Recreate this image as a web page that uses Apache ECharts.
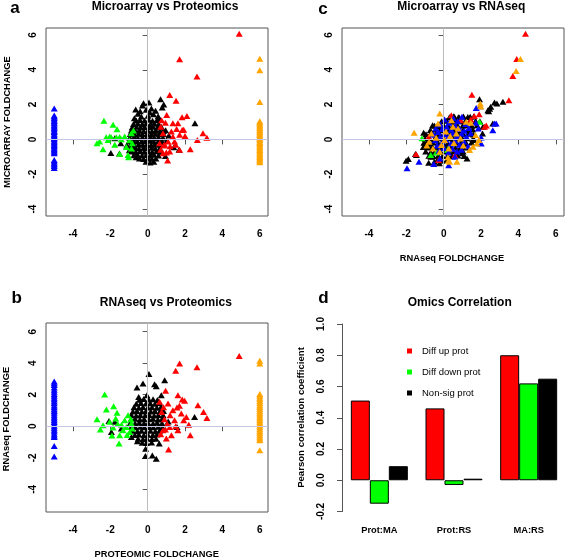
<!DOCTYPE html>
<html><head><meta charset="utf-8">
<script src="https://cdn.jsdelivr.net/npm/echarts@6/dist/echarts.min.js"></script>
<style>html,body{margin:0;padding:0;background:#fff}#c{width:567px;height:559px}</style>
</head><body><div id="c"></div>
<script>
// ---------- data ----------
const scatterTicks = [-4, -2, 0, 2, 4, 6];
const corrCategories = ['Prot:MA', 'Prot:RS', 'MA:RS'];
const corrUp = [0.51, 0.46, 0.80];
const corrDown = [-0.15, -0.03, 0.62];
const corrNonSig = [0.09, 0.01, 0.65];

// panel a: proteomic (x) vs microarray (y)
const aBlack = [[-0.64,1.72],[-0.28,1.95],[0.07,2.12],[-0.22,2.08],[0.20,1.78],[0.42,1.64],[0.69,2.30],[0.86,2.00],[0.78,1.83],[-0.52,1.47],[-0.40,1.62],[-0.08,1.70],[0.12,1.55],[0.31,1.44],[0.56,1.33],[-0.71,1.22],[-0.34,1.31],[0.02,1.36],[0.63,1.16],
[2.53,0.93],[1.68,-0.60],[-1.97,-0.78],[-1.51,-0.81],[-1.76,0.07],[-1.44,-0.22],[1.13,0.22],[1.40,-0.45],[0.96,0.52],[-1.12,-0.35],[-0.98,-0.62],[-0.62,-1.02],[0.95,-0.95],
[-0.61,1.08],[-0.41,1.12],[-0.17,1.09],[0.06,1.13],[0.26,1.07],[0.49,1.10],
[-0.76,0.88],[-0.53,0.92],[-0.29,0.89],[-0.07,0.91],[0.16,0.87],[0.36,0.92],[0.59,0.89],
[-0.83,0.69],[-0.59,0.72],[-0.37,0.68],[-0.16,0.71],[0.08,0.70],[0.29,0.73],[0.53,0.68],[0.74,0.71],
[-0.87,0.51],[-0.65,0.48],[-0.45,0.52],[-0.21,0.49],[0.01,0.51],[0.23,0.47],[0.43,0.52],[0.67,0.50],[0.84,0.48],
[-0.93,0.31],[-0.69,0.28],[-0.47,0.32],[-0.27,0.29],[-0.03,0.31],[0.19,0.28],[0.41,0.32],[0.61,0.29],[0.85,0.31],
[-0.96,0.09],[-0.72,0.12],[-0.52,0.08],[-0.28,0.11],[-0.06,0.09],[0.16,0.12],[0.36,0.08],[0.58,0.11],[0.82,0.09],
[-0.99,-0.11],[-0.75,-0.08],[-0.55,-0.12],[-0.31,-0.09],[-0.11,-0.11],[0.13,-0.08],[0.33,-0.12],[0.57,-0.09],[0.77,-0.11],[1.01,-0.08],
[-0.92,-0.29],[-0.72,-0.32],[-0.48,-0.28],[-0.26,-0.31],[-0.04,-0.29],[0.18,-0.32],[0.38,-0.28],[0.62,-0.31],[0.82,-0.29],
[-0.89,-0.51],[-0.67,-0.48],[-0.47,-0.52],[-0.23,-0.49],[-0.03,-0.51],[0.21,-0.48],[0.41,-0.52],[0.65,-0.49],
[-0.84,-0.69],[-0.64,-0.72],[-0.40,-0.68],[-0.18,-0.71],[0.04,-0.69],[0.24,-0.72],[0.48,-0.68],[0.68,-0.71],
[-0.74,-0.91],[-0.54,-0.88],[-0.30,-0.92],[-0.08,-0.89],[0.14,-0.91],[0.34,-0.88],[0.58,-0.92],
[-0.44,-1.09],[-0.22,-1.12],[0.02,-1.08],[0.22,-1.11],[0.44,-1.09],
[-0.09,-1.28],[0.13,-1.32],[0.33,-1.29]];
const aRed = [[4.90,6.07],[1.71,4.60],[2.64,3.62],[1.18,2.55],[1.52,2.22],[1.02,1.40],[1.84,1.27],[2.10,1.35],[1.35,0.93],[1.62,0.93],[1.93,0.55],[2.96,0.35],[3.17,0.10],[2.66,-0.03],[2.28,-0.56],[1.71,-0.60],[1.07,-1.21],[1.00,-0.75],[0.64,-0.22],[0.82,0.35],[1.27,0.45],[1.09,-0.12],[1.44,-0.12],[0.70,0.72],[0.85,-0.35],[0.91,-0.31],[1.18,-0.69],[0.83,-0.79],[1.35,0.15],[1.71,0.27],[1.85,0.54],[0.95,0.95],[0.75,1.10],[1.55,0.60],[1.20,-0.40],[0.70,-0.60],[2.00,0.20],[1.50,-0.30]];
const aGreen = [[-2.34,1.07],[-1.85,0.84],[-1.64,0.59],[-2.71,-0.22],[-2.57,-0.12],[-2.22,0.12],[-1.95,0.12],[-1.76,-0.31],[-1.50,-0.83],[-1.05,-0.89],[-1.02,-1.02],[-1.23,0.16],[-1.41,0.01],[-1.50,0.14],[-0.97,-0.05],[-0.87,0.35],[-0.76,0.51],[-2.39,-0.56],[-1.68,0.12],[-2.03,0.16],[-1.14,-0.43],[-0.87,-0.52],[-0.82,-0.22],[-2.12,-0.03]];
const aBlueY = [1.78,1.37,1.31,1.23,1.14,1.06,0.97,0.91,0.82,0.74,0.67,0.58,0.49,0.42,0.33,0.24,0.17,0.08,0.01,-0.07,-0.16,-0.23,-0.32,-0.39,-0.48,-0.56,-0.64,-0.71,-0.79,-1.18,-1.27,-1.37,-1.44,-1.53,-1.64];
const aOrangeY = [4.64,3.97,2.15,1.05,0.97,0.91,0.82,0.74,0.65,0.57,0.51,0.42,0.34,0.26,0.17,0.11,0.02,-0.05,-0.13,-0.21,-0.28,-0.36,-0.45,-0.52,-0.61,-0.68,-0.76,-0.85,-0.92,-1.01,-1.08,-1.16,-1.23,-1.31];

// panel b: proteomic (x) vs RNAseq (y)
const bBlack = [[0.07,3.31],[-0.57,2.46],[-0.25,2.71],[0.37,2.67],[0.46,2.54],[0.91,2.92],[0.73,1.97],[-0.04,1.97],[-0.48,1.86],[2.51,0.59],[1.57,-0.04],[-0.11,-1.42],[-0.12,-1.89],[0.25,-1.86],[0.46,-2.06],[-0.87,-0.68],[-2.07,0.34],[-1.76,0.28],[-1.94,-0.36],[-1.41,-0.15],[0.62,-1.10],[-0.55,-0.95],[1.10,0.30],
[-0.44,1.68],[-0.21,1.73],[0.06,1.69],[0.29,1.72],[0.52,1.67],
[-0.61,1.43],[-0.36,1.47],[-0.09,1.44],[0.14,1.46],[0.39,1.42],[0.63,1.47],
[-0.73,1.21],[-0.47,1.18],[-0.25,1.22],[0.01,1.19],[0.23,1.21],[0.49,1.18],[0.71,1.22],
[-0.79,0.94],[-0.57,0.97],[-0.31,0.93],[-0.09,0.96],[0.17,0.94],[0.39,0.97],[0.65,0.93],[0.85,0.96],
[-0.87,0.71],[-0.61,0.68],[-0.39,0.72],[-0.13,0.69],[0.09,0.71],[0.35,0.68],[0.57,0.72],[0.83,0.69],
[-0.89,0.44],[-0.67,0.47],[-0.41,0.43],[-0.19,0.46],[0.07,0.44],[0.29,0.47],[0.55,0.43],[0.77,0.46],
[-0.93,0.21],[-0.67,0.18],[-0.45,0.22],[-0.19,0.19],[0.03,0.21],[0.29,0.18],[0.51,0.22],[0.77,0.19],
[-0.87,-0.04],[-0.65,-0.07],[-0.39,-0.03],[-0.17,-0.06],[0.09,-0.04],[0.31,-0.07],[0.57,-0.03],[0.79,-0.06],
[-0.81,-0.29],[-0.55,-0.32],[-0.33,-0.28],[-0.07,-0.31],[0.15,-0.29],[0.41,-0.32],[0.63,-0.28],
[-0.69,-0.56],[-0.47,-0.53],[-0.21,-0.57],[0.01,-0.54],[0.27,-0.56],[0.49,-0.53],
[-0.51,-0.79],[-0.25,-0.82],[-0.03,-0.78],[0.23,-0.81],[0.45,-0.79],
[-0.29,-1.04],[-0.06,-1.07],[0.21,-1.03]];
const bRed = [[4.90,4.45],[1.71,3.98],[2.64,3.74],[1.50,3.52],[0.96,2.25],[1.62,1.97],[1.85,1.69],[1.98,1.61],[2.69,1.33],[2.99,0.91],[3.17,0.53],[2.28,-0.57],[1.12,-1.48],[1.00,-0.78],[0.82,-0.25],[1.18,-0.04],[1.44,0.38],[1.93,0.38],[1.80,0.81],[1.35,1.02],[1.09,1.44],[1.57,1.19],[2.07,0.59],[0.64,1.55],[1.62,-0.25],[1.27,-0.57],[0.75,0.90],[0.90,0.45],[1.20,0.70],[0.70,-0.50],[1.50,0.00],[2.20,0.10],[1.70,1.30],[0.85,1.20],[1.05,0.15],[0.95,-0.20]];
const bGreen = [[-2.30,2.01],[-1.82,1.27],[-2.21,1.06],[-1.64,0.85],[-2.71,0.44],[-2.39,0.06],[-2.53,-0.21],[-2.03,0.28],[-1.71,0.49],[-1.85,-0.08],[-1.91,-0.59],[-1.50,-0.57],[-1.53,-1.10],[-1.14,-0.04],[-1.23,0.38],[-1.05,0.70],[-0.96,-0.36],[-1.32,-0.25],[-0.87,0.17],[-1.40,0.10],[-0.90,0.45],[-1.10,-0.55],[-0.82,-0.15],[-1.60,0.15]];
const bBlueY = [2.84,2.73,2.61,2.46,2.31,2.19,2.04,1.93,1.81,1.69,1.57,1.46,1.32,1.21,1.08,0.96,0.86,0.73,0.61,0.49,0.38,0.27,0.14,0.03,-0.09,-0.22,-0.34,-0.47,-0.59,-0.68,-1.25,-1.92];
const bOrangeY = [4.15,3.98,2.05,1.94,1.81,1.71,1.58,1.47,1.34,1.22,1.11,0.98,0.86,0.75,0.62,0.51,0.39,0.28,0.17,0.04,-0.07,-0.19,-0.31,-0.42,-0.54,-0.66,-0.77,-0.89,-1.53];

// panel c: RNAseq (x) vs microarray (y)
const cBlack = [[1.92,2.31],[1.96,1.91],[2.72,2.12],[2.85,2.06],[3.17,2.16],[2.37,1.68],[2.46,1.76],[2.52,1.88],[2.41,1.62],[2.63,0.92],[2.10,0.73],
[-1.07,0.38],[-1.51,-0.84],[-2.01,-1.22],[-1.89,-1.13],[-1.46,-0.90],[-0.80,-1.34],[1.25,-1.09],[-0.59,0.82],[-0.32,0.76],[-0.94,-0.23],[-0.77,-0.42],[-0.68,-1.00],[-0.50,-1.28],[-0.23,-1.37],[1.01,-0.80],[2.08,0.34],[1.64,-0.04],[1.42,1.30],[0.84,1.26],[0.57,1.30],
[0.31,1.28],[0.54,1.33],[0.79,1.27],[1.06,1.31],[1.29,1.29],[1.61,1.32],
[-0.11,1.04],[0.16,1.07],[0.39,1.03],[0.66,1.06],[0.89,1.04],[1.16,1.07],[1.39,1.03],[1.71,1.06],[1.94,1.04],
[-0.49,0.79],[-0.26,0.82],[0.01,0.78],[0.24,0.81],[0.51,0.79],[0.74,0.82],[1.01,0.78],[1.24,0.81],[1.51,0.79],[1.79,0.82],
[-0.71,0.54],[-0.44,0.57],[-0.21,0.53],[0.06,0.56],[0.29,0.54],[0.56,0.57],[0.79,0.53],[1.06,0.56],[1.29,0.54],[1.56,0.57],
[-0.94,0.29],[-0.71,0.32],[-0.44,0.28],[-0.21,0.31],[0.06,0.29],[0.29,0.32],[0.56,0.28],[0.79,0.31],[1.06,0.29],[1.29,0.32],[1.59,0.28],
[-0.99,0.04],[-0.76,0.07],[-0.49,0.03],[-0.26,0.06],[0.01,0.04],[0.24,0.07],[0.51,0.03],[0.74,0.06],[1.01,0.04],[1.24,0.07],[1.56,0.03],
[-1.06,-0.19],[-0.79,-0.22],[-0.56,-0.18],[-0.29,-0.21],[-0.06,-0.19],[0.21,-0.22],[0.44,-0.18],[0.71,-0.21],[0.94,-0.19],[1.21,-0.22],[1.49,-0.18],
[-1.09,-0.44],[-0.86,-0.47],[-0.59,-0.43],[-0.36,-0.46],[-0.09,-0.44],[0.14,-0.47],[0.41,-0.43],[0.64,-0.46],[0.91,-0.44],[1.19,-0.47],
[-0.96,-0.69],[-0.69,-0.72],[-0.46,-0.68],[-0.19,-0.71],[0.04,-0.69],[0.31,-0.72],[0.54,-0.68],[0.81,-0.71],[1.04,-0.69],
[-0.79,-0.94],[-0.56,-0.97],[-0.29,-0.93],[-0.06,-0.96],[0.21,-0.94],[0.44,-0.97],[0.76,-0.93],[1.09,-0.96],
[-0.34,-1.19],[-0.11,-1.22],[0.16,-1.18]];
const cRed = [[4.38,6.07],[3.91,4.62],[3.70,3.64],[1.51,2.56],[3.49,2.25],[0.41,1.39],[0.91,1.10],[2.19,0.73],[2.28,0.80],[-0.80,0.15],[-1.48,-0.84],[1.64,1.34],[-0.27,-1.18],[1.45,1.15],[0.60,-0.90],[1.90,1.45]];
const cGreen = [[-1.16,0.06],[1.92,1.01],[-0.69,-0.90],[-0.40,-0.75],[0.20,-0.60]];
const cBlue = [[-1.96,-1.66],[-1.32,-1.28],[-0.53,-1.41],[0.27,-1.49],[2.72,0.92],[2.81,0.92],[2.63,0.53],[2.01,0.11],[2.01,-0.23],[1.74,1.81],[1.72,0.95],[1.85,0.62],[-0.20,-1.10],[0.60,-1.00],
[-0.42,0.62],[-0.18,0.85],[0.05,1.15],[0.28,0.95],[0.52,1.22],[0.75,1.05],[0.98,1.30],[1.18,0.88],
[-0.55,0.28],[-0.30,0.42],[-0.08,0.60],[0.16,0.72],[0.40,0.55],[0.62,0.78],[0.86,0.60],[1.10,0.50],[1.35,0.65],
[-0.45,-0.05],[-0.20,0.12],[0.03,0.30],[0.27,0.18],[0.50,0.36],[0.73,0.20],[0.96,0.33],[1.22,0.15],[1.45,0.35],
[-0.35,-0.35],[-0.10,-0.20],[0.14,-0.05],[0.38,-0.25],[0.60,-0.08],[0.84,-0.30],[1.08,-0.12],[1.30,-0.40],
[-0.25,-0.65],[0.02,-0.50],[0.25,-0.75],[0.48,-0.55],[0.72,-0.70],[0.95,-0.60]];
const cOrange = [[4.11,4.62],[3.88,3.93],[1.96,2.06],[1.98,1.91],[-1.58,0.38],[-0.30,0.92],[-0.66,0.34],[-0.78,-0.13],[-0.57,-0.52],[-0.21,-0.71],[0.32,-1.28],[0.71,-1.28],[0.23,-1.03],[0.50,0.73],[0.77,0.63],[0.68,0.34],[0.05,-0.04],[-0.12,-0.32],[0.28,-0.52],[1.39,-0.61],[1.57,-0.42],[1.78,-0.23],[1.89,-0.04],[1.71,0.25],[1.21,1.01],[-0.21,1.49],[0.25,-1.22],[0.35,0.20],[0.12,0.45],[0.90,0.05],[1.05,-0.35],[-0.40,0.10],[0.55,-0.20],[-0.90,-0.35],[1.45,0.95],[0.42,1.10]];

// ---------- chart ----------
const FONT = "'Liberation Sans', Arial, sans-serif";
const C = {red:'#ff0000', green:'#00ff00', black:'#000000', blue:'#0000ff', orange:'#ffa500'};
const chart = echarts.init(document.getElementById('c'), null, {renderer:'canvas'});

function scatterX(i){
  return {type:'value', gridIndex:i, min:-5.44, max:6.44, axisLine:{show:false},
    splitLine:{show:false},
    axisTick:{show:true, length:5, customValues:scatterTicks, lineStyle:{color:'#555'}},
    axisLabel:{customValues:scatterTicks, fontSize:10, fontWeight:'bold', fontFamily:FONT, color:'#000', margin:13}};
}
function scatterY(i, mn, mx){
  return {type:'value', gridIndex:i, min:mn, max:mx, axisLine:{show:false},
    splitLine:{show:false},
    axisTick:{show:true, length:5, customValues:scatterTicks, lineStyle:{color:'#555'}},
    axisLabel:{customValues:scatterTicks, rotate:90, fontSize:10, fontWeight:'bold', fontFamily:FONT, color:'#000', margin:8}};
}
function sc(name, i, data, color, z){
  return {name:name, type:'scatter', xAxisIndex:i, yAxisIndex:i, data:data, symbol:'triangle',
    symbolSize:[7,6], itemStyle:{color:color, opacity:1}, z:z, silent:true};
}
function refLines(i){
  return {name:'ref'+i, type:'scatter', xAxisIndex:i, yAxisIndex:i, data:[], z:9, silent:true,
    markLine:{silent:true, symbol:'none', animation:false, label:{show:false},
      lineStyle:{width:1, type:'solid'},
      data:[{xAxis:0, lineStyle:{color:'#bdbdbd', type:'solid', width:1}},
            {yAxis:0, lineStyle:{color:'#c4c4e4', type:'solid', width:1}}]}};
}
const col = (ys, x) => ys.map(y => [x, y]);

const gridBox = {show:true, borderColor:'#555', borderWidth:1, backgroundColor:'transparent'};

function txt(t, x, y, size, weight, rot){
  return {type:'text', x:x, y:y, rotation:rot||0, silent:true,
    style:{text:t, fill:'#000', font:(weight||'bold')+' '+size+'px '+FONT, textAlign:'center', textVerticalAlign:'middle'}};
}

const option = {
  animation:false,
  backgroundColor:'#fff',
  grid:[
    Object.assign({left:46, top:28, width:222, height:188}, gridBox),
    Object.assign({left:342, top:28, width:222, height:188}, gridBox),
    Object.assign({left:46, top:323, width:222, height:189}, gridBox),
    {left:342, top:324, width:224, height:187.5, show:false}
  ],
  xAxis:[
    scatterX(0), scatterX(1), scatterX(2),
    {type:'category', gridIndex:3, data:corrCategories, axisLine:{show:false}, axisTick:{show:false},
     axisLabel:{fontSize:9.3, fontWeight:'bold', fontFamily:FONT, color:'#000', margin:14}}
  ],
  yAxis:[
    scatterY(0, -4.4, 6.4), scatterY(1, -4.4, 6.4), scatterY(2, -5.44, 6.55),
    {type:'value', gridIndex:3, min:-0.2, max:1.0, interval:0.2, splitLine:{show:false},
     axisLine:{show:true, lineStyle:{color:'#555', width:1}},
     axisTick:{show:true, length:5, lineStyle:{color:'#555'}},
     axisLabel:{rotate:90, fontSize:10, fontWeight:'bold', fontFamily:FONT, color:'#000', margin:16,
       formatter:v => v.toFixed(1)}}
  ],
  legend:{data:['Diff up prot','Diff down prot','Non-sig prot'], orient:'vertical', left:402, top:340,
    itemWidth:5, itemHeight:5, itemGap:9, icon:'rect', selectedMode:false,
    itemStyle:{borderWidth:0},
    textStyle:{fontSize:9.5, fontFamily:FONT, color:'#000', lineHeight:12, padding:[0,0,0,5]}},
  series:[
    sc('a-black',0,aBlack,C.black,2), sc('a-red',0,aRed,C.red,3), sc('a-green',0,aGreen,C.green,3),
    sc('a-blue',0,col(aBlueY,-5),C.blue,3), sc('a-orange',0,col(aOrangeY,6),C.orange,3), refLines(0),
    sc('c-black',1,cBlack,C.black,2), sc('c-red',1,cRed,C.red,3), sc('c-green',1,cGreen,C.green,3),
    sc('c-blue',1,cBlue,C.blue,4), sc('c-orange',1,cOrange,C.orange,5), refLines(1),
    sc('b-black',2,bBlack,C.black,2), sc('b-red',2,bRed,C.red,3), sc('b-green',2,bGreen,C.green,3),
    sc('b-blue',2,col(bBlueY,-5),C.blue,3), sc('b-orange',2,col(bOrangeY,6),C.orange,3), refLines(2),
    {name:'Diff up prot', type:'bar', xAxisIndex:3, yAxisIndex:3, data:corrUp, barWidth:19, barGap:'0%',
     itemStyle:{color:C.red, borderColor:'#000', borderWidth:1}},
    {name:'Diff down prot', type:'bar', xAxisIndex:3, yAxisIndex:3, data:corrDown, barWidth:19, barGap:'0%',
     itemStyle:{color:C.green, borderColor:'#000', borderWidth:1}},
    {name:'Non-sig prot', type:'bar', xAxisIndex:3, yAxisIndex:3, data:corrNonSig, barWidth:19, barGap:'0%',
     itemStyle:{color:C.black, borderColor:'#000', borderWidth:1}}
  ],
  graphic:[
    txt('a', 15, 8, 17), txt('c', 323, 9, 17), txt('b', 16.7, 298.3, 17), txt('d', 323.5, 298.3, 17),
    txt('Microarray vs Proteomics', 165, 6.4, 12),
    txt('Microarray vs RNAseq', 461.3, 6.4, 12),
    txt('RNAseq vs Proteomics', 165.8, 302.4, 12),
    txt('Omics Correlation', 459.7, 302.8, 12),
    txt('MICROARRAY FOLDCHANGE', 7.5, 122, 9.3, 'bold', Math.PI/2),
    txt('RNAseq FOLDCHANGE', 6.7, 419, 9.3, 'bold', Math.PI/2),
    txt('RNAseq FOLDCHANGE', 452, 258, 9.3),
    txt('PROTEOMIC FOLDCHANGE', 156.7, 554.5, 9.3),
    txt('Pearson correlation coefficient', 301.3, 417.5, 9.6, 'bold', Math.PI/2)
  ]
};
chart.setOption(option);
</script></body></html>
